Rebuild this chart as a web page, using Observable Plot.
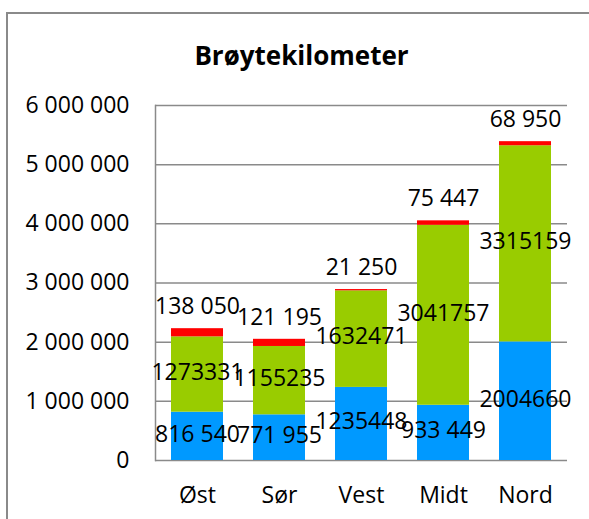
<!DOCTYPE html>
<html>
<head>
<meta charset="utf-8">
<script src="https://cdn.jsdelivr.net/npm/d3@7"></script>
<script src="https://cdn.jsdelivr.net/npm/@observablehq/plot@0.6"></script>
<style>
  body { margin: 0; background: #fff; width: 589px; height: 519px; overflow: hidden; position: relative; }
  #frame { position: absolute; left: 6px; top: 12px; width: 700px; height: 600px; border-left: 2px solid #8a8a8a; border-top: 2px solid #8a8a8a; }
  #title { position: absolute; left: 0; top: 37px; width: 603px; text-align: center; font: bold 26px "Open Sans", sans-serif; color: #000; line-height: 36px; }
  #chart { position: absolute; left: 0; top: 80px; }
</style>
</head>
<body>
<div id="frame"></div>
<div id="title">Brøytekilometer</div>
<div id="chart"></div>
<script>
const regions = ["Øst", "Sør", "Vest", "Midt", "Nord"];
const seriesNames = ["Serie1", "Serie2", "Serie3"];
const serie1 = [816540, 771955, 1235448, 933449, 2004660];
const serie2 = [1273331, 1155235, 1632471, 3041757, 3315159];
const serie3 = [138050, 121195, 21250, 75447, 68950];
const yTicks = [0, 1000000, 2000000, 3000000, 4000000, 5000000, 6000000];
const colors = ["#0099FF", "#99CC00", "#FF0000"];

const seriesValues = [serie1, serie2, serie3];
const data = [];
seriesNames.forEach((s, si) => {
  regions.forEach((r, ri) => {
    data.push({ region: r, series: s, value: seriesValues[si][ri] });
  });
});

const nb = d3.formatLocale({ thousands: " ", grouping: [3], decimal: ",", currency: ["", ""] });
const fmtSpace = nb.format(",d");
const labelFmt = v => v < 1000000 ? fmtSpace(v) : String(v);

const font = "'Open Sans', sans-serif";
const fs = 23;

const chart = Plot.plot({
  width: 589,
  height: 439,
  marginLeft: 155,
  marginRight: 22,
  marginTop: 25,
  marginBottom: 59,
  style: { fontFamily: font, fontSize: fs + "px", color: "#000", background: "transparent" },
  x: { domain: regions, paddingInner: 0.36, paddingOuter: 0.18, label: null },
  y: { domain: [0, 6000000], label: null },
  color: { domain: seriesNames, range: colors },
  marks: [
    Plot.ruleY(yTicks, { stroke: "#8a8a8a", strokeWidth: 1.5 }),
    Plot.frame({ anchor: "left", stroke: "#8a8a8a", strokeWidth: 1.5 }),
    Plot.barY(data, { x: "region", y: "value", fill: "series", z: "series", order: seriesNames }),
    Plot.text(data, Plot.stackY({
      x: "region", y: "value", z: "series", order: seriesNames,
      text: d => d.series === "Serie3" ? "" : labelFmt(d.value),
      fill: "#000", fontSize: fs, dy: -2
    })),
    Plot.text(data, Plot.stackY2({
      x: "region", y: "value", z: "series", order: seriesNames,
      text: d => d.series === "Serie3" ? labelFmt(d.value) : "",
      fill: "#000", fontSize: fs, dy: -22
    })),
    Plot.axisY({ ticks: yTicks, tickFormat: fmtSpace, tickSize: 0, tickPadding: 26, fontSize: fs, label: null }),
    Plot.axisX({ tickSize: 0, tickPadding: 26, fontSize: fs, label: null })
  ]
});
document.getElementById("chart").appendChild(chart);
</script>
</body>
</html>
